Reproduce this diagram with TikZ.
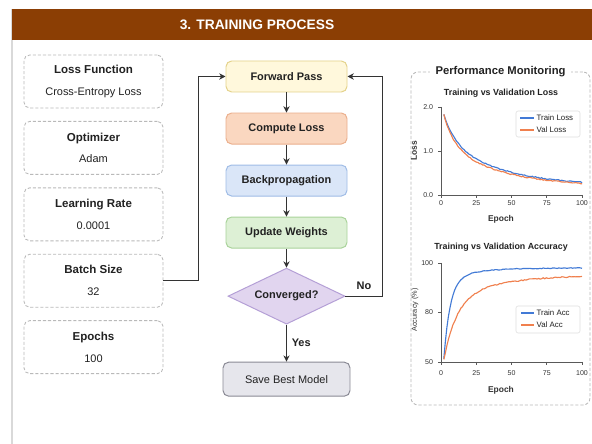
\documentclass[tikz,border=0pt]{standalone}
\usepackage{fontspec}
\setmainfont{Liberation Sans}
\usetikzlibrary{shapes.geometric,arrows.meta}

\definecolor{hdrbrown}{RGB}{139,62,4}
\definecolor{txt}{RGB}{34,34,34}
\definecolor{trainblue}{RGB}{66,122,214}
\definecolor{valorange}{RGB}{240,128,78}
\definecolor{fpfill}{RGB}{255,248,220}
\definecolor{fpdraw}{RGB}{228,210,138}
\definecolor{clfill}{RGB}{250,215,192}
\definecolor{cldraw}{RGB}{235,175,140}
\definecolor{bpfill}{RGB}{218,230,248}
\definecolor{bpdraw}{RGB}{159,188,230}
\definecolor{uwfill}{RGB}{221,240,213}
\definecolor{uwdraw}{RGB}{169,211,154}
\definecolor{cvfill}{RGB}{225,213,239}
\definecolor{cvdraw}{RGB}{180,159,214}
\definecolor{smfill}{RGB}{230,230,236}
\definecolor{smdraw}{RGB}{138,138,149}

\newcommand{\px}{0.025cm}

\begin{document}
\begin{tikzpicture}[
        x=\px, y=-\px,
        >={Stealth[length=4.5pt,width=4.5pt]},
        node distance=1.3cm,
        every node/.style={text=txt},
        param/.style={draw=gray!55, dash pattern=on 2.2pt off 1.4pt, line width=0.6pt, rounded corners=4pt,
            fill=white, minimum width=139*\px, minimum height=53*\px, align=center, font=\fontsize{7.8}{9}\selectfont},
        flowbox/.style={draw, line width=0.7pt, rounded corners=4pt, minimum width=121*\px, minimum height=31*\px,
            font=\fontsize{7.8}{9}\selectfont\bfseries},
        flow/.style={draw=black!80, line width=0.8pt, ->},
        axis/.style={draw=black!65, line width=0.5pt},
        tick/.style={font=\fontsize{5}{6}\selectfont, text=black!80},
        alabel/.style={font=\fontsize{6}{7}\selectfont\bfseries, text=black!80},
        legtext/.style={font=\fontsize{5.6}{6}\selectfont, anchor=west, inner sep=1pt}
    ]
        \useasboundingbox (0,0) rectangle (592,444);

        % panel and header
        \fill[white] (12,40) rectangle (592,444);
        \draw[gray!30, line width=1.2pt] (12,9) -- (12,444);
        \fill[hdrbrown] (12,9) rectangle (592,40);
        \node[text=white, font=\fontsize{9.8}{11}\selectfont\bfseries] (HD) at (257,24.5) {3. TRAINING PROCESS};

        % hyperparameters
        \node[param] (LF) at (93.5,81.5) {\textbf{\fontsize{8.2}{9}\selectfont Loss Function}\\[6.5pt]Cross-Entropy Loss};
        \node[param] (OP) [below of=LF, node distance=1.66cm] {\textbf{\fontsize{8.2}{9}\selectfont Optimizer}\\[6.5pt]Adam};
        \node[param] (LR) [below of=OP, node distance=1.66cm] {\textbf{\fontsize{8.2}{9}\selectfont Learning Rate}\\[6.5pt]0.0001};
        \node[param] (BS) [below of=LR, node distance=1.66cm] {\textbf{\fontsize{8.2}{9}\selectfont Batch Size}\\[6.5pt]32};
        \node[param] (EP) [below of=BS, node distance=1.66cm] {\textbf{\fontsize{8.2}{9}\selectfont Epochs}\\[6.5pt]100};

        % training loop
        \node[flowbox, fill=fpfill, draw=fpdraw] (FP) at (286.5,76.5) {Forward Pass};
        \node[flowbox, fill=clfill, draw=cldraw] (CL) [below of=FP] {Compute Loss};
        \node[flowbox, fill=bpfill, draw=bpdraw] (BP) [below of=CL] {Backpropagation};
        \node[flowbox, fill=uwfill, draw=uwdraw] (UW) [below of=BP] {Update Weights};
        \node[diamond, draw=cvdraw, fill=cvfill, line width=0.7pt, inner sep=0pt, aspect=2.1,
            minimum width=117*\px, minimum height=56*\px, font=\fontsize{7.8}{9}\selectfont\bfseries]
            (CV) [below of=UW, node distance=1.59cm] {Converged?};
        \node[flowbox, fill=smfill, draw=smdraw, minimum width=127*\px, minimum height=34*\px, font=\fontsize{7.8}{9}\selectfont]
            (SM) [below of=CV, node distance=2.075cm] {Save Best Model};

        \path[flow] (FP) -- (CL);
        \path[flow] (CL) -- (BP);
        \path[flow] (BP) -- (UW);
        \path[flow] (UW) -- (CV);
        \path[flow] (CV) -- node[right, font=\fontsize{7.8}{9}\selectfont\bfseries] {Yes} (SM);
        \path[flow] (CV.east) -- node[above, font=\fontsize{7.8}{9}\selectfont\bfseries, yshift=1pt] {No} ++(37,0) |- (FP.east);
        \path[flow] (BS.east) -- ++(35,0) |- (FP.west);

        % monitoring panel
        \node[draw=gray!55, dash pattern=on 2.2pt off 1.4pt, line width=0.6pt, rounded corners=5pt,
            minimum width=179*\px, minimum height=333*\px] (PM) at (500.5,238.5) {};
        \node[fill=white, font=\fontsize{8}{9}\selectfont\bfseries, inner xsep=4pt] (PT) at (PM.north) {Performance Monitoring};

        % loss plot
        \node[font=\fontsize{6.3}{7}\selectfont\bfseries] (LT) at (501,93) {Training vs Validation Loss};
        \draw[axis] (441,107) -- (441,195) -- (582,195);
        \foreach \e in {0,25,50,75,100} {
            \draw[axis] ({441+1.41*\e},195) -- ++(0,3);
            \node[tick] at ({441+1.41*\e},203) {\e};
        }
        \foreach \yy/\l in {107/2.0,151/1.0,195/0.0} {
            \draw[axis] (441,\yy) -- ++(-3,0);
            \node[tick, anchor=east] at (438,\yy) {\l};
        }
        \node[alabel] at (501,219) {Epoch};
        \node[alabel, rotate=90] at (414,151) {Loss};
        \pgfmathsetseed{11}
        \draw[trainblue, line width=0.8pt] plot[domain=2:100, samples=90]
            ({441+1.41*\x}, {195-44*(0.2+1.1*exp(-\x/40)+0.75*exp(-\x/8)+0.012*rand)});
        \draw[valorange, line width=0.8pt] plot[domain=2:100, samples=90]
            ({441+1.41*\x}, {195-44*(0.19+1.05*exp(-\x/38)+0.85*exp(-\x/7)+0.012*rand)});
        \draw[gray!25, fill=white, rounded corners=1.5pt, line width=0.4pt] (516,111) rectangle (580,137);
        \draw[trainblue, line width=0.9pt] (520,118) -- (534,118);
        \node[legtext] at (535,118) {Train Loss};
        \draw[valorange, line width=0.9pt] (520,130) -- (534,130);
        \node[legtext] at (535,130) {Val Loss};

        % accuracy plot
        \node[font=\fontsize{6.3}{7}\selectfont\bfseries] (AT) at (501,247) {Training vs Validation Accuracy};
        \draw[axis] (441,263) -- (441,362) -- (582,362);
        \foreach \e in {0,25,50,75,100} {
            \draw[axis] ({441+1.41*\e},362) -- ++(0,3);
            \node[tick] at ({441+1.41*\e},373) {\e};
        }
        \foreach \yy/\l in {263/100,312/80,362/50} {
            \draw[axis] (441,\yy) -- ++(-3,0);
            \node[tick, anchor=east] at (438,\yy) {\l};
        }
        \node[alabel] at (501,390) {Epoch};
        \node[alabel, rotate=90, font=\fontsize{5.2}{6}\selectfont] at (415,310) {Accuracy (\%)};
        \draw[trainblue, line width=0.8pt] plot[domain=2:100, samples=90]
            ({441+1.41*\x}, {362-1.98*(47.5-40*exp(-(\x-2)/4.5)-6*exp(-(\x-2)/20)+0.2*rand)});
        \draw[valorange, line width=0.8pt] plot[domain=2:100, samples=90]
            ({441+1.41*\x}, {362-1.98*(44-30*exp(-(\x-2)/9)-13*exp(-(\x-2)/35)+0.3*rand)});
        \draw[gray!25, fill=white, rounded corners=1.5pt, line width=0.4pt] (516,306) rectangle (580,333);
        \draw[trainblue, line width=0.9pt] (521,313) -- (534,313);
        \node[legtext] at (535,313) {Train Acc};
        \draw[valorange, line width=0.9pt] (521,325) -- (534,325);
        \node[legtext] at (535,325) {Val Acc};
    \end{tikzpicture}
\end{document}
